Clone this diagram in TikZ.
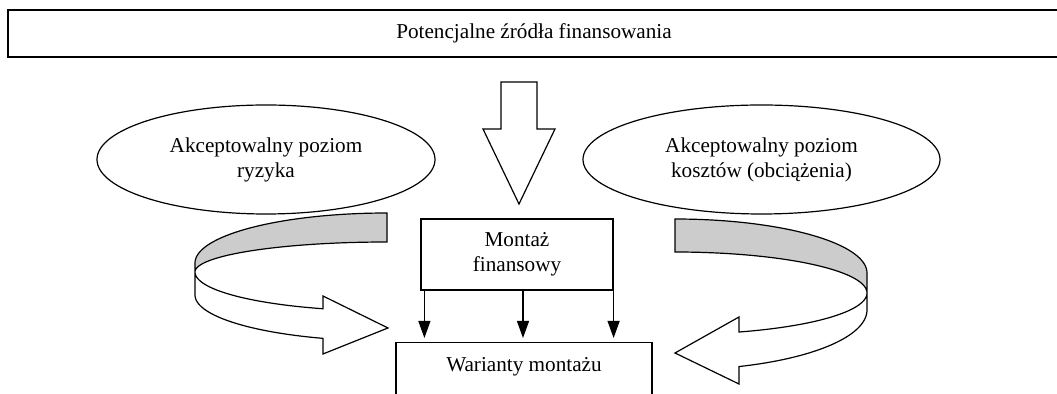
\documentclass[tikz,border=0pt]{standalone}
\usepackage{fontspec}
\setmainfont{Liberation Serif}
\usetikzlibrary{shapes.geometric,arrows.meta,calc}
\definecolor{bandgrey}{RGB}{204,204,204}
\begin{document}
\begin{tikzpicture}[x=0.5pt,y=-0.5pt,line width=0.6pt,
  font=\fontsize{10.6}{12.5}\selectfont,
  box/.style={draw,rectangle,align=center,inner sep=0pt},
  oval/.style={draw,ellipse,align=center,inner sep=0pt},
  arr/.style={-{Triangle[width=6pt,length=8.5pt]},shorten >=2pt},
  band/.style={draw,fill=bandgrey},
  frontband/.style={draw,fill=white}]
\useasboundingbox (0,0) rectangle (1057,394);
\clip (0,0) rectangle (1057,394);
% top box
\node[box,line width=0.8pt,minimum width=526pt,minimum height=23.5pt] (src) at (534,33.5) {Potencjalne źródła finansowania};
% ellipses
\node[oval,minimum width=169pt,minimum height=54.5pt] (risk) at (266,159.5) {Akceptowalny poziom\\ryzyka};
\node[oval,minimum width=178.5pt,minimum height=54.5pt] (cost) at (761.5,159.5) {Akceptowalny poziom\\kosztów (obciążenia)};
% boxes
\node[box,minimum width=96pt,minimum height=35.5pt] (mon) at (517,254.5) {Montaż\\finansowy};
\node[box,minimum width=128pt,minimum height=40pt,anchor=north] (war) at (524,342) {};
\node (wartxt) at (524,367) {Warianty montażu};
% big hollow arrow
\draw (501,82) -- (537,82) -- (537,129) -- (555,129) -- (519,204) -- (483,129) -- (501,129) -- cycle;
% three arrows
\coordinate (a1) at ($(mon.south west)+(4,0)$);
\coordinate (a2) at ($(mon.south)+(6,0)$);
\coordinate (a3) at (mon.south east);
\draw[arr] (a1) -- (a1 |- war.north);
\draw[arr] (a2) -- (a2 |- war.north);
\draw[arr] (a3) -- (a3 |- war.north);
% left curved arrow
\path[band] (387,213) -- plot[domain=90:180,samples=40] ({387+192*cos(\x)},{263-50*sin(\x)}) -- (195,272) -- plot[domain=180:90,samples=40] ({387+192*cos(\x)},{272-30*sin(\x)}) -- cycle;
\path[frontband] (195,272) -- plot[domain=180:109.47,samples=40] ({387+192*cos(\x)},{272+39*sin(\x)}) -- (323,296) -- (388,328) -- (323,354) -- plot[domain=109.47:180,samples=40] ({387+192*cos(\x)},{295+46*sin(\x)}) -- cycle;
% right curved arrow
\path[band] (675,219) -- plot[domain=90:0,samples=40] ({675+192*cos(\x)},{273-54*sin(\x)}) -- (867,293) -- plot[domain=0:90,samples=40] ({675+192*cos(\x)},{293-41*sin(\x)}) -- cycle;
\path[frontband] (867,293) -- plot[domain=0:70.53,samples=40] ({675+192*cos(\x)},{293+41.4*sin(\x)}) -- (739,317) -- (675,353) -- (739,384) -- plot[domain=70.53:0,samples=40] ({675+192*cos(\x)},{310+60*sin(\x)}) -- cycle;
\end{tikzpicture}
\end{document}
